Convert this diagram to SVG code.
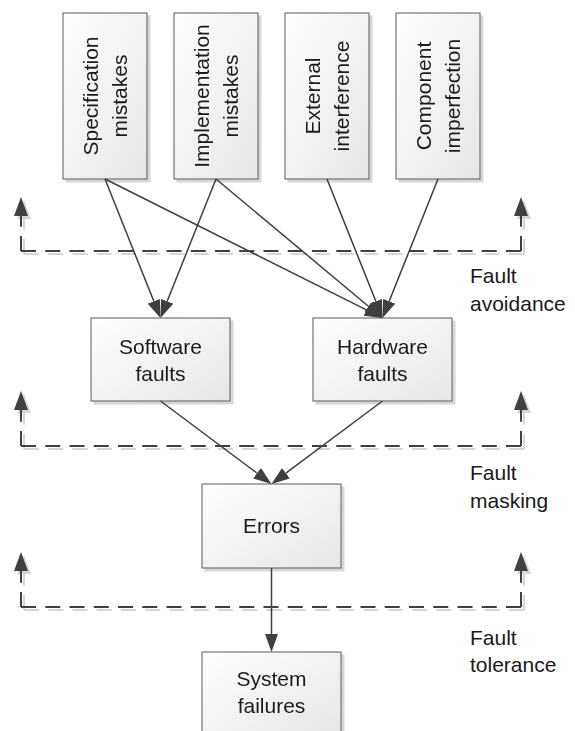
<svg xmlns="http://www.w3.org/2000/svg" width="575" height="731" viewBox="0 0 575 731">
<style>
.box{fill:url(#g);stroke:#5a5a5a;stroke-width:1}
.t{font-family:"Liberation Sans",Arial,sans-serif;font-size:21px;fill:#1a1a1a;text-anchor:middle}
.lab{font-family:"Liberation Sans",Arial,sans-serif;font-size:21px;fill:#1a1a1a}
.c{stroke:#3f3f3f;stroke-width:1.5;fill:none;marker-end:url(#ah)}
.d{stroke:#404040;stroke-width:2;fill:none;stroke-dasharray:15 9.25}
.dv{marker-end:url(#ah2)}
</style>
<defs>
<linearGradient id="g" x1="0" y1="0" x2="1" y2="1">
<stop offset="0" stop-color="#ffffff"/>
<stop offset="1" stop-color="#e6e6e6"/>
</linearGradient>
<filter id="sh" filterUnits="userSpaceOnUse" x="0" y="0" width="575" height="731">
<feOffset in="SourceAlpha" dx="3" dy="3" result="o"/>
<feFlood flood-color="#000" flood-opacity="0.16"/>
<feComposite in2="o" operator="in" result="s"/>
<feMerge><feMergeNode in="s"/><feMergeNode in="SourceGraphic"/></feMerge>
</filter>
<marker id="ah" viewBox="0 -6.5 18 13" markerWidth="18" markerHeight="13" refX="0" refY="0" orient="auto" markerUnits="userSpaceOnUse">
<path d="M0,-6.5 L18,0 L0,6.5 Z" fill="#3f3f3f"/>
</marker>
<marker id="ah2" viewBox="0 -7 19 14" markerWidth="19" markerHeight="14" refX="0" refY="0" orient="auto" markerUnits="userSpaceOnUse">
<path d="M0,-7 L19,0 L0,7 Z" fill="#404040"/>
</marker>
</defs>

<g id="spec" filter="url(#sh)">
<rect class="box" x="63" y="13" width="84" height="166"/>
<g transform="rotate(-90 105 96)"><text class="t" x="105" y="89">Specification</text><text class="t" x="105" y="118">mistakes</text></g>
</g>
<g id="impl" filter="url(#sh)">
<rect class="box" x="174" y="13" width="84" height="166"/>
<g transform="rotate(-90 216 96)"><text class="t" x="216" y="89">Implementation</text><text class="t" x="216" y="118">mistakes</text></g>
</g>
<g id="ext" filter="url(#sh)">
<rect class="box" x="285" y="13" width="84" height="166"/>
<g transform="rotate(-90 327 96)"><text class="t" x="327" y="89">External</text><text class="t" x="327" y="118">interference</text></g>
</g>
<g id="comp" filter="url(#sh)">
<rect class="box" x="396" y="13" width="84" height="166"/>
<g transform="rotate(-90 438 96)"><text class="t" x="438" y="89">Component</text><text class="t" x="438" y="118">imperfection</text></g>
</g>

<g id="sw" filter="url(#sh)">
<rect class="box" x="91" y="318" width="139" height="83"/>
<text class="t" x="160.5" y="354">Software</text><text class="t" x="160.5" y="381">faults</text>
</g>
<g id="hw" filter="url(#sh)">
<rect class="box" x="313" y="318" width="139" height="83"/>
<text class="t" x="382.5" y="354">Hardware</text><text class="t" x="382.5" y="381">faults</text>
</g>
<g id="errors" filter="url(#sh)">
<rect class="box" x="202" y="484" width="139" height="84"/>
<text class="t" x="271.5" y="533">Errors</text>
</g>
<g id="sysfail" filter="url(#sh)">
<rect class="box" x="202" y="652" width="139" height="84"/>
<text class="t" x="271.5" y="686">System</text><text class="t" x="271.5" y="713">failures</text>
</g>

<g id="connectors">
<path class="c" d="M105,179 L153.83,301.29"/>
<path class="c" d="M216,179 L167.17,301.29"/>
<path class="c" d="M105,179 L366.41,309.94"/>
<path class="c" d="M216,179 L368.68,306.46"/>
<path class="c" d="M327,179 L375.83,301.29"/>
<path class="c" d="M438,179 L389.17,301.29"/>
<path class="c" d="M160.5,401 L257.08,473.22"/>
<path class="c" d="M382.5,401 L285.92,473.22"/>
<path class="c" d="M271.5,568 L271.5,634"/>
</g>

<g id="fault-avoidance" filter="url(#sh)">
<path class="d dv" d="M21,251 L21,216"/>
<path class="d" d="M21,251 L521,251"/>
<path class="d dv" d="M521,251 L521,216"/>
</g>
<g id="fault-masking" filter="url(#sh)">
<path class="d dv" d="M21,446 L21,410"/>
<path class="d" d="M21,446 L521,446"/>
<path class="d dv" d="M521,446 L521,410"/>
</g>
<g id="fault-tolerance" filter="url(#sh)">
<path class="d dv" d="M21,607 L21,571"/>
<path class="d" d="M21,607 L521,607"/>
<path class="d dv" d="M521,607 L521,571"/>
</g>

<g id="labels">
<text class="lab" x="470" y="283">Fault</text><text class="lab" x="470" y="311">avoidance</text>
<text class="lab" x="470" y="480">Fault</text><text class="lab" x="470" y="508">masking</text>
<text class="lab" x="470" y="645">Fault</text><text class="lab" x="470" y="672">tolerance</text>
</g>
</svg>
